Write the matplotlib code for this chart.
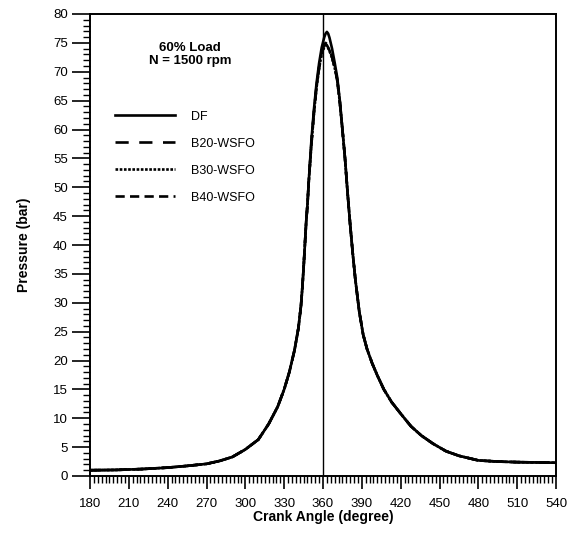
import matplotlib
matplotlib.use("Agg")
import matplotlib.pyplot as plt
from matplotlib.ticker import MultipleLocator

plt.rcParams['font.family'] = ['Liberation Sans', 'DejaVu Sans']

angles = [180, 200, 220, 240, 255, 270, 280, 290, 300, 310, 318, 325, 330, 334, 338,
          341, 343, 344, 345, 346, 347, 348, 349, 351, 353, 355, 357, 359, 361, 362,
          363, 364, 365, 367, 369, 371, 373, 375, 377, 379, 381, 383, 385, 388, 391,
          394, 398, 402, 407, 413, 420, 428, 436, 445, 455, 465, 480, 495, 510, 525, 540]

df = [1.0, 1.05, 1.2, 1.45, 1.75, 2.1, 2.6, 3.3, 4.6, 6.3, 9.0, 12.0, 15.0, 18.0, 21.8,
      25.6, 29.5, 32.5, 36.0, 40.0, 44.0, 47.0, 51.0, 58.0, 63.5, 68.0, 71.5, 74.2, 76.0, 76.6,
      76.9, 76.6, 75.9, 74.0, 71.6, 69.0, 65.0, 60.0, 55.0, 49.0, 43.5, 38.5, 34.0, 28.5, 24.5,
      22.0, 19.5, 17.4, 15.0, 12.8, 10.8, 8.6, 7.0, 5.6, 4.3, 3.5, 2.7, 2.5, 2.4, 2.35, 2.3]

b20 = [1.0, 1.05, 1.2, 1.45, 1.75, 2.1, 2.6, 3.3, 4.6, 6.3, 9.0, 12.0, 15.0, 18.0, 21.8,
       25.6, 29.5, 32.5, 36.0, 40.0, 44.0, 47.0, 51.0, 57.5, 63.0, 67.5, 70.8, 73.4, 74.7, 75.0,
       74.8, 74.4, 73.9, 72.6, 70.9, 68.6, 64.8, 60.0, 55.0, 49.0, 43.5, 38.5, 34.0, 28.5, 24.5,
       22.0, 19.5, 17.4, 15.0, 12.8, 10.8, 8.6, 7.0, 5.6, 4.3, 3.5, 2.7, 2.5, 2.4, 2.35, 2.3]

b30 = [1.0, 1.05, 1.2, 1.45, 1.75, 2.1, 2.6, 3.3, 4.6, 6.3, 9.0, 12.0, 15.0, 18.0, 21.8,
       25.6, 29.5, 32.5, 36.0, 40.0, 44.0, 47.0, 51.0, 57.3, 62.8, 67.3, 70.6, 73.1, 74.3, 74.6,
       74.5, 74.1, 73.6, 72.4, 70.7, 68.5, 64.7, 60.0, 55.0, 49.0, 43.5, 38.5, 34.0, 28.5, 24.5,
       22.0, 19.5, 17.4, 15.0, 12.8, 10.8, 8.6, 7.0, 5.6, 4.3, 3.5, 2.7, 2.5, 2.4, 2.35, 2.3]

b40 = [1.0, 1.05, 1.2, 1.45, 1.75, 2.1, 2.6, 3.3, 4.6, 6.3, 9.0, 12.0, 15.0, 18.0, 21.8,
       25.6, 29.5, 32.5, 36.0, 40.0, 44.0, 47.0, 51.0, 57.4, 62.9, 67.4, 70.7, 73.3, 74.5, 74.8,
       74.6, 74.2, 73.7, 72.5, 70.8, 68.5, 64.7, 60.0, 55.0, 49.0, 43.5, 38.5, 34.0, 28.5, 24.5,
       22.0, 19.5, 17.4, 15.0, 12.8, 10.8, 8.6, 7.0, 5.6, 4.3, 3.5, 2.7, 2.5, 2.4, 2.35, 2.3]

series_labels = ["DF", "B20-WSFO", "B30-WSFO", "B40-WSFO"]
x_ticks = [180, 210, 240, 270, 300, 330, 360, 390, 420, 450, 480, 510, 540]
y_ticks = [0, 5, 10, 15, 20, 25, 30, 35, 40, 45, 50, 55, 60, 65, 70, 75, 80]

fig = plt.figure(figsize=(5.8, 5.37), dpi=100)
ax = fig.add_axes([90/580, (537-476)/537, (556-90)/580, (476-14)/537])

styles = ['-', (0, (5, 4)), (0, (1, 0.6)), (0, (3.5, 2))]
for vals, lab, ls in zip([df, b20, b30, b40], series_labels, styles):
    ax.plot(angles, vals, color='black', lw=1.9, linestyle=ls, label=lab)

ax.axvline(360, color='black', lw=1.0)

ax.set_xlim(180, 540)
ax.set_ylim(0, 80)
ax.set_xticks(x_ticks)
ax.set_yticks(y_ticks)
ax.xaxis.set_minor_locator(MultipleLocator(3))
ax.yaxis.set_minor_locator(MultipleLocator(1))
ax.tick_params(axis='x', which='major', direction='out', length=9, width=1.2, labelsize=9.5, pad=7)
ax.tick_params(axis='x', which='minor', direction='out', length=5, width=1.0)
ax.tick_params(axis='y', which='major', direction='out', length=13, width=1.2, labelsize=9.5, pad=3)
ax.tick_params(axis='y', which='minor', direction='out', length=5, width=1.0)
for s in ax.spines.values():
    s.set_linewidth(1.4)

ax.set_xlabel("Crank Angle (degree)", fontsize=10, fontweight='bold', labelpad=0)
ax.set_ylabel("Pressure (bar)", fontsize=10, fontweight='bold', labelpad=16)

ax.text(0.215, 0.94, "60% Load\nN = 1500 rpm", transform=ax.transAxes, ha='center', va='top',
        fontsize=9.5, fontweight='bold', linespacing=1.1)

leg = ax.legend(loc='upper left', bbox_to_anchor=(0.03, 0.815), frameon=False, fontsize=9,
                handlelength=4.8, handletextpad=1.3, labelspacing=1.2)

fig.savefig("out.png", dpi=100)
